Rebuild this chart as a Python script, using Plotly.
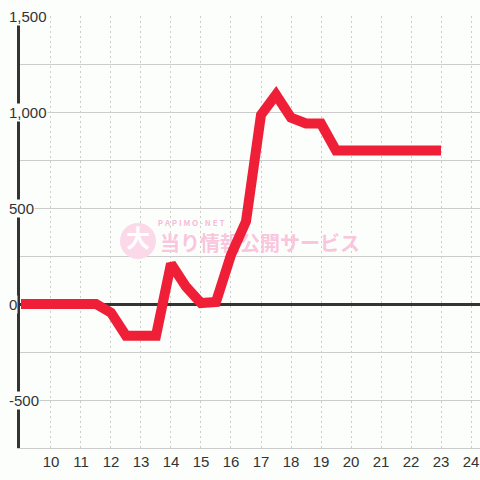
import plotly.graph_objects as go

# hourly (30 min) running balance
hours = [9, 9.5, 10, 10.5, 11, 11.5, 12, 12.5, 13, 13.5, 14, 14.5, 15, 15.5,
         16, 16.5, 17, 17.5, 18, 18.5, 19, 19.5, 20, 20.5, 21, 21.5, 22, 22.5, 23]
balance = [0, 0, 0, 0, 0, 0, -45, -165, -165, -165, 210, 90, 5, 10,
           255, 430, 985, 1090, 970, 940, 940, 800, 800, 800, 800, 800, 800, 800, 800]

x_ticks = list(range(10, 25))
y_grid = list(range(-750, 1501, 250))
y_labels = [1500, 1000, 500, 0, -500]

bg = "#fcfefc"
font = "Liberation Sans, Arial, sans-serif"

fig = go.Figure()

# watermark (sits under the line)
fig.add_shape(type="circle", x0=12.3, x1=13.5, y0=234, y1=422,
              fillcolor="#fcd9e8", line_width=0, layer="between")
fig.add_trace(go.Scatter(
    x=[12.9, 14.67, 16.97], y=[326, 418, 300], mode="text",
    text=["<b>大</b>", "<b>P A P I M O - N E T</b>", "<b>当り情報公開サービス</b>"],
    textposition="middle center",
    textfont=dict(family="Noto Sans CJK JP", size=[24, 8, 20],
                  color=["#ffffff", "#f7bcd6", "#f9c6dd"]),
    hoverinfo="skip", showlegend=False))

fig.add_trace(go.Scatter(x=hours, y=balance, mode="lines",
                         line=dict(color="#ee1f36", width=10),
                         hoverinfo="skip", showlegend=False))

for v in y_labels:
    fig.add_annotation(x=-0.026, xref="paper", y=v, yref="y",
                       text=f"{v:,}", showarrow=False, xanchor="left",
                       bgcolor=bg, borderpad=0,
                       font=dict(family=font, size=15, color="#333"))

fig.update_layout(
    width=480, height=480,
    margin=dict(l=20, r=0, t=16, b=32),
    paper_bgcolor=bg, plot_bgcolor=bg,
    font=dict(family=font, size=15, color="#333"),
)
fig.update_xaxes(range=[8.967, 24.3], tickvals=x_ticks,
                 ticktext=[str(h) for h in x_ticks], automargin=False,
                 showgrid=True, gridcolor="#cccccc", griddash="2px,3px",
                 gridwidth=1, zeroline=False, showline=True,
                 linecolor="#cccccc", linewidth=1, ticks="",
                 tickfont=dict(size=15, color="#333"))
fig.update_yaxes(range=[-750, 1500], tickvals=y_grid, showticklabels=False,
                 automargin=False,
                 showgrid=True, gridcolor="#cccccc", gridwidth=1,
                 showline=True, linecolor="#333333", linewidth=3,
                 zeroline=True, zerolinecolor="#333333", zerolinewidth=3,
                 ticks="")

# drop the page's default 8px body margin so the chart fills the window
fig.write_html("out.html", config={"displayModeBar": False},
               post_script="document.body.style.margin='0';")
